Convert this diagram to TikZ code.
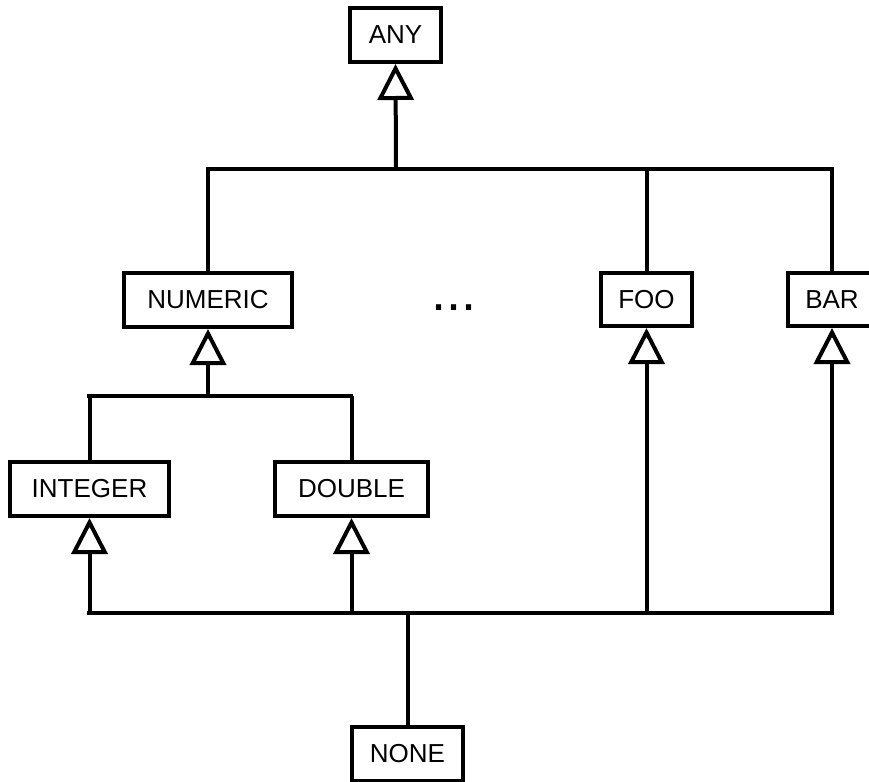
\documentclass[tikz,border=0pt]{standalone}
\usepackage{fontspec}
\setmainfont{Liberation Sans}
\usetikzlibrary{arrows.meta}
\begin{document}
\begin{tikzpicture}[x=1pt,y=-1pt,
  cls/.style={draw,line width=4pt,minimum height=54pt,inner sep=0pt,font=\fontsize{26}{30}\selectfont},
  bus/.style={line width=4pt,line cap=rect},
  wire/.style={line width=4pt},
  inh/.style={line width=4pt,-{Triangle[open,length=36pt,width=36pt,fill=white]}}]
\useasboundingbox (0,0) rectangle (869,781);
\node[cls,minimum width=91pt] (any) at (395.5,35) {ANY};
\node[cls,minimum width=168pt] (numeric) at (208,300) {NUMERIC};
\node[cls,minimum width=91pt,minimum height=53pt] (foo) at (646.5,299.5) {FOO};
\node[cls,minimum width=88pt,minimum height=53pt] (bar) at (832,299.5) {BAR};
\node[cls,minimum width=159pt] (integer) at (89.5,489) {INTEGER};
\node[cls,minimum width=153pt] (double) at (351.5,489) {DOUBLE};
\node[cls,minimum width=111pt] (none) at (407.5,754) {NONE};
\node[font=\fontsize{54}{60}\selectfont,anchor=base,inner sep=0pt] (dots) at (454,310) {...};
% top bus
\coordinate (t1) at (208,169);
\coordinate (t2) at (832,169);
\coordinate (ta) at (396,169);
\draw[bus] (t1) -- (t2);
\draw[inh] (ta) -- (any.south);
\draw[wire] (numeric.north) -- (numeric.north |- t1);
\draw[wire] (foo.north) -- (foo.north |- t1);
\draw[wire] (bar.north) -- (bar.north |- t1);
% numeric bus
\coordinate (m1) at (89,396);
\coordinate (m2) at (351,396);
\coordinate (mn) at (208,396);
\draw[bus] (m1) -- (m2);
\draw[inh] (mn) -- (numeric.south);
\draw[wire] (integer.north) -- (integer.north |- m1);
\draw[wire] (double.north) -- (double.north |- m1);
% bottom bus
\coordinate (b1) at (89,613);
\coordinate (b2) at (832,613);
\coordinate (bn) at (408,613);
\draw[bus] (b1) -- (b2);
\draw[inh] (integer.south |- b1) -- (integer.south);
\draw[inh] (double.south |- b1) -- (double.south);
\draw[inh] (foo.south |- b1) -- (foo.south);
\draw[inh] (bar.south |- b1) -- (bar.south);
\draw[wire] (none.north) -- (none.north |- bn);
\end{tikzpicture}
\end{document}
